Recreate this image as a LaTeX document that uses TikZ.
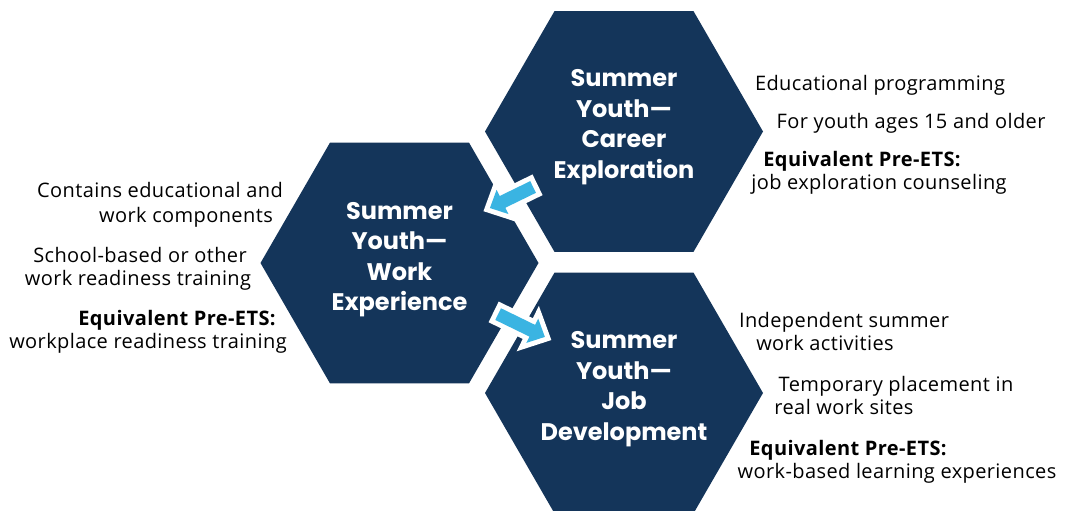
\documentclass[tikz,border=0pt]{standalone}
\usepackage{fontspec}
\setmainfont{Open Sans}[LetterSpace=2]
\newfontfamily\titlefont{Poppins}
\usetikzlibrary{shapes.geometric}
\definecolor{navy}{RGB}{20,53,90}
\definecolor{arrowblue}{RGB}{58,180,226}
\begin{document}
\begin{tikzpicture}[x=1pt,y=-1pt,
  hexa/.style={regular polygon, regular polygon sides=6, minimum size=278pt, inner sep=0pt, outer sep=0pt, fill=navy},
  title/.style={text=white, font=\titlefont\bfseries\fontsize{24}{30.5}\selectfont, align=center, inner sep=0pt},
  body/.style={font=\fontsize{20}{24}\selectfont, inner sep=0pt, anchor=base},
  bodyb/.style={body, font=\bfseries\fontsize{20}{24}\selectfont},
  flowout/.style={draw=white, line width=10pt, line join=miter},
  flowin/.style={fill=arrowblue}]
\fill[white] (0,0) rectangle (1068,511);
\useasboundingbox (0,0) rectangle (1068,511);

% hexagons
\node[hexa] (hexCareer) at (624,131.5) {};
\node[hexa] (hexWork) at (399.5,263) {};
\node[hexa] (hexJob) at (624,393) {};

% titles
\node[title] (tCareer) at (624,127) {Summer\\Youth—\\Career\\Exploration};
\node[title] (tWork) at (399.5,259.5) {Summer\\Youth—\\Work\\Experience};
\node[title] (tJob) at (624,389) {Summer\\Youth—\\Job\\Development};

% arrows (drawn in a local frame: tail at -L/2, tip at +L/2)
\begin{scope}[shift={(511.5,197.5)}, rotate=206]
  \coordinate (arrAtail) at (-24,0);
  \coordinate (arrAtip) at (24,0);
  \path[flowout] (-24,-6.5) -- (10,-6.5) -- (10,-13.5) -- (24,0) -- (10,13.5) -- (10,6.5) -- (-24,6.5) -- cycle;
  \path[flowin] (-24,-6.5) -- (10,-6.5) -- (10,-13.5) -- (24,0) -- (10,13.5) -- (10,6.5) -- (-24,6.5) -- cycle;
\end{scope}
\begin{scope}[shift={(521.5,325.5)}, rotate=-26]
  \coordinate (arrBtail) at (-26,0);
  \coordinate (arrBtip) at (26,0);
  \path[flowout] (-26,-6.5) -- (12,-6.5) -- (12,-13.5) -- (26,0) -- (12,13.5) -- (12,6.5) -- (-26,6.5) -- cycle;
  \path[flowin] (-26,-6.5) -- (12,-6.5) -- (12,-13.5) -- (26,0) -- (12,13.5) -- (12,6.5) -- (-26,6.5) -- cycle;
\end{scope}

% left texts
\node[body] (w1) at (160,197) {Contains educational and};
\node[body] (w2) at (186,222) {work components};
\node[body] (w3) at (140,262) {School-based or other};
\node[body] (w4) at (138,285) {work readiness training};
\node[bodyb] (w5) at (177,325) {Equivalent Pre-ETS:};
\node[body] (w6) at (148,348) {workplace readiness training};

% top right texts
\node[body] (c1) at (880,91) {Educational programming};
\node[body] (c2) at (911,128) {For youth ages 15 and older};
\node[bodyb] (c3) at (862,166) {Equivalent Pre-ETS:};
\node[body] (c4) at (879,189) {job exploration counseling};

% bottom right texts
\node[body] (j1) at (844,327) {Independent summer};
\node[body] (j2) at (825,350) {work activities};
\node[body] (j3) at (896,391) {Temporary placement in};
\node[body] (j4) at (844,414) {real work sites};
\node[bodyb] (j5) at (848,455) {Equivalent Pre-ETS:};
\node[body] (j6) at (897,478) {work-based learning experiences};
\end{tikzpicture}
\end{document}
